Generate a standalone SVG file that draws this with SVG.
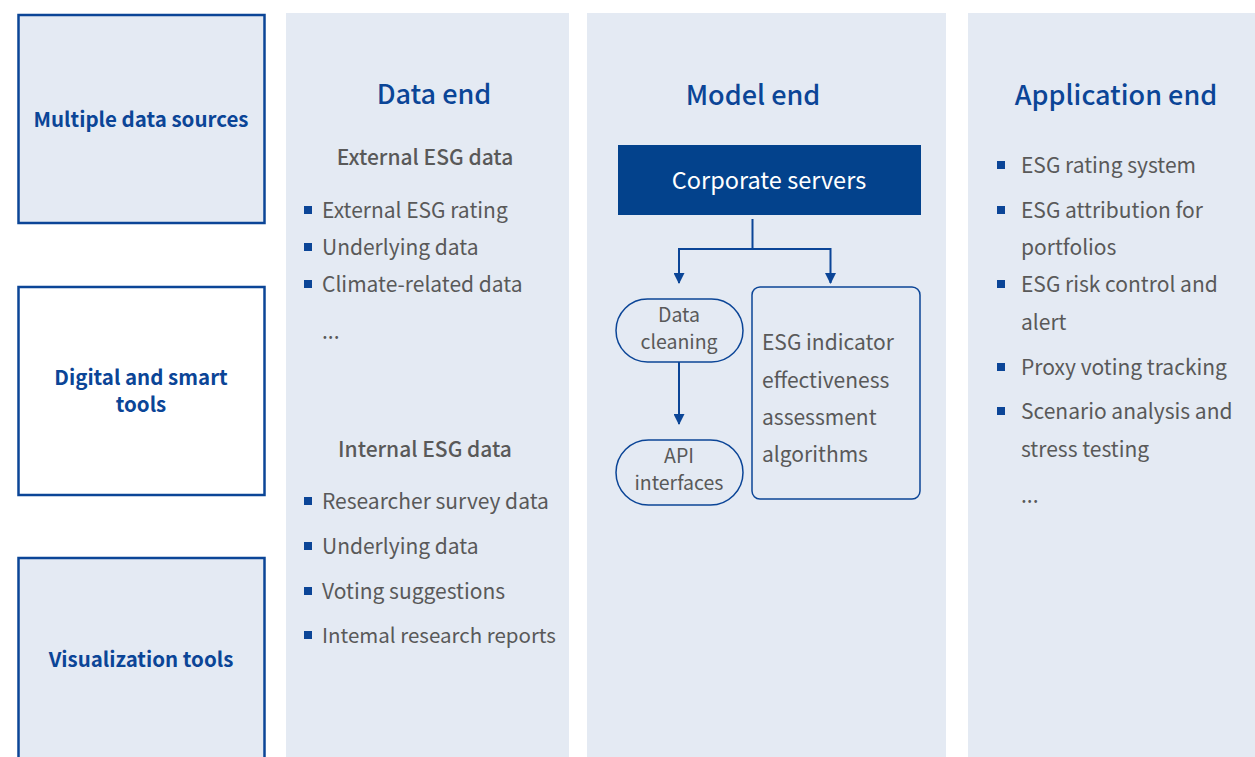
<svg xmlns="http://www.w3.org/2000/svg" width="1255" height="757" viewBox="0 0 1255 757">
<defs>
<style>
text{font-family:"Noto Sans CJK SC","Noto Sans",sans-serif}
.panel{fill:#e4eaf3}
.lbox{stroke:#0b4597;stroke-width:2.5}
.lt{fill:#0b4597;font-size:20.5px;font-weight:700;text-anchor:middle}
.hd{fill:#0b4597;font-size:27px;font-weight:500;text-anchor:middle}
.sub{fill:#595959;font-size:21px;font-weight:500;text-anchor:middle}
.it{fill:#595959;font-size:21px}
.it2{fill:#595959;font-size:20.5px}
.pt{fill:#595959;font-size:19.5px;text-anchor:middle}
.bl{fill:#0b4597}
.ln{stroke:#0b4597;stroke-width:2;fill:none}
.sh{fill:none;stroke:#0b4597;stroke-width:1.5}
</style>
<marker id="ah" viewBox="0 0 10 10" refX="9" refY="5" markerWidth="12" markerHeight="11" markerUnits="userSpaceOnUse" orient="auto"><path d="M0,0 L10,5 L0,10 z" fill="#0b4597"/></marker>
</defs>
<rect width="1255" height="757" fill="#ffffff"/>
<g id="panels">
<rect class="panel" x="286" y="13" width="283" height="744"/>
<rect class="panel" x="587" y="13" width="359" height="744"/>
<rect class="panel" x="968" y="13" width="287" height="744"/>
</g>
<g id="node-multiple">
<rect class="lbox" x="18.5" y="15" width="246" height="208" fill="#e4eaf3"/>
<text class="lt" x="141" y="127">Multiple data sources</text>
</g>
<g id="node-digital">
<rect class="lbox" x="18.5" y="287" width="246" height="208" fill="#ffffff"/>
<text class="lt" x="141" y="385">Digital and smart</text>
<text class="lt" x="141" y="412">tools</text>
</g>
<g id="node-visual">
<rect class="lbox" x="18.5" y="558" width="246" height="210" fill="#e4eaf3"/>
<text class="lt" x="141" y="667">Visualization tools</text>
</g>
<g id="data-end">
<text class="hd" x="434" y="104">Data end</text>
<text class="sub" x="425" y="165">External ESG data</text>
<rect class="bl" x="304" y="206" width="8" height="8"/><text class="it" x="322" y="218">External ESG rating</text>
<rect class="bl" x="304" y="243" width="8" height="8"/><text class="it" x="322" y="255">Underlying data</text>
<rect class="bl" x="304" y="280" width="8" height="8"/><text class="it" x="322" y="292">Climate-related data</text>
<text class="it" x="322" y="339">...</text>
<text class="sub" x="425" y="457">Internal ESG data</text>
<rect class="bl" x="304" y="497" width="8" height="8"/><text class="it" x="322" y="509">Researcher survey data</text>
<rect class="bl" x="304" y="542" width="8" height="8"/><text class="it" x="322" y="554">Underlying data</text>
<rect class="bl" x="304" y="587" width="8" height="8"/><text class="it" x="322" y="599">Voting suggestions</text>
<rect class="bl" x="304" y="631" width="8" height="8"/><text class="it2" x="322" y="643">Intemal research reports</text>
</g>
<g id="model-end">
<text class="hd" x="753" y="105">Model end</text>
</g>
<g id="node-servers">
<rect x="618" y="145" width="303" height="70" fill="#03428c"/>
<text x="769" y="189" fill="#ffffff" font-size="23.5" text-anchor="middle">Corporate servers</text>
</g>
<g id="node-cleaning">
<rect class="sh" x="616" y="299" width="127" height="63" rx="31.5"/>
<text class="pt" x="679" y="322">Data</text>
<text class="pt" x="679" y="349">cleaning</text>
</g>
<g id="node-api">
<rect class="sh" x="616" y="440" width="127" height="65" rx="32.5"/>
<text class="pt" x="679" y="463">API</text>
<text class="pt" x="679" y="490">interfaces</text>
</g>
<g id="node-algo">
<rect class="sh" x="752" y="287" width="168" height="212" rx="8"/>
<text class="it" x="762" y="350">ESG indicator</text>
<text class="it" x="762" y="388">effectiveness</text>
<text class="it" x="762" y="425">assessment</text>
<text class="it" x="762" y="462">algorithms</text>
</g>
<g id="connectors">
<path class="ln" d="M752.5,219 V249 M679,249 H830.5"/>
<path class="ln" d="M679,248 V283" marker-end="url(#ah)"/>
<path class="ln" d="M830.5,248 V283" marker-end="url(#ah)"/>
<path class="ln" d="M679,362 V424" marker-end="url(#ah)"/>
</g>
<g id="application-end">
<text class="hd" x="1116" y="105">Application end</text>
<rect class="bl" x="997" y="161" width="8" height="8"/><text class="it" x="1021" y="173">ESG rating system</text>
<rect class="bl" x="997" y="206" width="8" height="8"/><text class="it" x="1021" y="218">ESG attribution for</text>
<text class="it" x="1021" y="255">portfolios</text>
<rect class="bl" x="997" y="280" width="8" height="8"/><text class="it" x="1021" y="292">ESG risk control and</text>
<text class="it" x="1021" y="330">alert</text>
<rect class="bl" x="997" y="363" width="8" height="8"/><text class="it" x="1021" y="375">Proxy voting tracking</text>
<rect class="bl" x="997" y="407" width="8" height="8"/><text class="it" x="1021" y="419">Scenario analysis and</text>
<text class="it" x="1021" y="457">stress testing</text>
<text class="it" x="1021" y="503">...</text>
</g>
</svg>
